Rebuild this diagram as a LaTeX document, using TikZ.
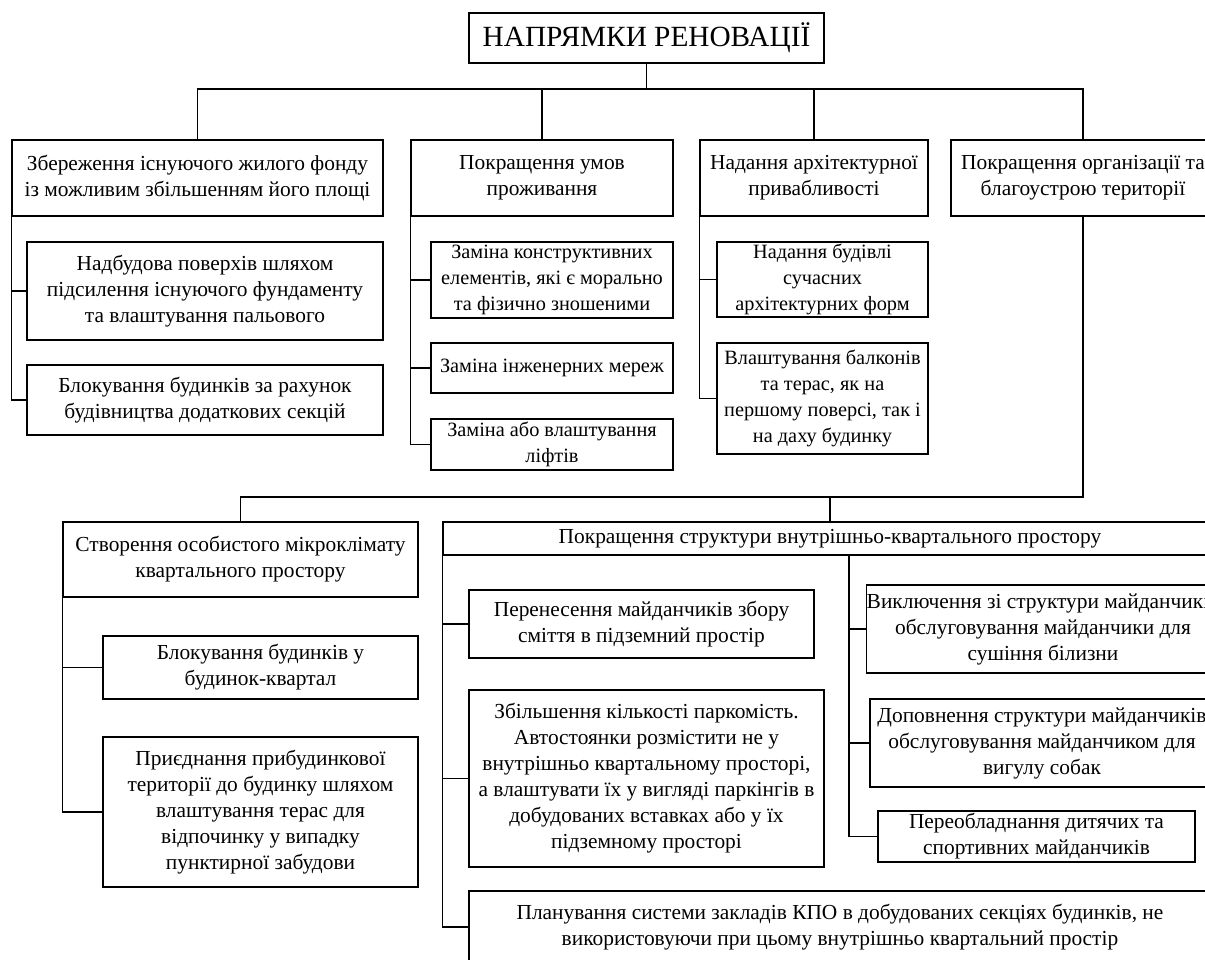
\documentclass[tikz,border=0pt]{standalone}
\usepackage{fontspec}
\setmainfont{Liberation Serif}

\begin{document}
\begin{tikzpicture}[x=1pt, y=-1pt,
  box/.style={draw, line width=1.1pt, align=center, inner sep=0pt,
    font=\fontsize{21.4}{26}\selectfont},
  smallbox/.style={box, font=\fontsize{20.3}{26}\selectfont},
  link/.style={line width=1.1pt, line cap=rect}]
\useasboundingbox (0,0) rectangle (1205,960);
\clip (0,0) rectangle (1205,960);

% top level
\node[box, minimum width=355pt, minimum height=50pt, font=\fontsize{29.3}{34}\selectfont]
  (title) at (646.5,38) {НАПРЯМКИ РЕНОВАЦІЇ};

\node[box, minimum width=371pt, minimum height=76pt] (b1) at (197.5,178)
  {Збереження існуючого жилого фонду\\із можливим збільшенням його площі};
\node[box, minimum width=262pt, minimum height=76pt] (b2) at (542,178)
  {Покращення умов\\проживання};
\node[box, minimum width=228pt, minimum height=76pt] (b3) at (814,178)
  {Надання архітектурної\\привабливості};
\node[box, minimum width=264pt, minimum height=76pt] (b4) at (1083,178)
  {Покращення організації та\\благоустрою території};

% children of the first row
\node[box, minimum width=356pt, minimum height=98pt] (b1a) at (205,291)
  {Надбудова поверхів шляхом\\підсилення існуючого фундаменту\\та влаштування пальового};
\node[box, minimum width=356pt, minimum height=70pt] (b1b) at (205,400)
  {Блокування будинків за рахунок\\будівництва додаткових секцій};

\node[smallbox, minimum width=242pt, minimum height=76pt] (b2a) at (552,280)
  {Заміна конструктивних\\елементів, які є морально\\та фізично зношеними};
\node[smallbox, minimum width=242pt, minimum height=50pt] (b2b) at (552,368)
  {Заміна інженерних мереж};
\node[smallbox, minimum width=242pt, minimum height=51pt] (b2c) at (552,444.5)
  {Заміна або влаштування\\ліфтів};

\node[smallbox, minimum width=211pt, minimum height=75pt] (b3a) at (822.5,279.5)
  {Надання будівлі\\сучасних\\архітектурних форм};
\node[smallbox, minimum width=211pt, minimum height=111pt] (b3b) at (822.5,398.5)
  {Влаштування балконів\\та терас, як на\\першому поверсі, так і\\на даху будинку};

% second row
\node[box, minimum width=355pt, minimum height=75pt] (m) at (240.5,559.5)
  {Створення особистого мікроклімату\\квартального простору};
\node[box, minimum width=315pt, minimum height=63pt] (m1) at (260.5,667.5)
  {Блокування будинків у\\будинок-квартал};
\node[box, minimum width=315pt, minimum height=150pt] (m2) at (260.5,812)
  {Приєднання прибудинкової\\території до будинку шляхом\\влаштування терас для\\відпочинку у випадку\\пунктирної забудови};

\node[box, minimum width=774pt, minimum height=33pt] (s) at (830,538.5)
  {Покращення структури внутрішньо-квартального простору};
\node[box, minimum width=345pt, minimum height=68pt] (s1) at (641.5,624)
  {Перенесення майданчиків збору\\сміття в підземний простір};
\node[box, minimum width=355pt, minimum height=177pt] (s2) at (646.5,778.5)
  {Збільшення кількості паркомість.\\Автостоянки розмістити не у\\внутрішньо квартальному просторі,\\а влаштувати їх у вигляді паркінгів в\\добудованих вставках або у їх\\підземному просторі};
\node[box, minimum width=742pt, minimum height=72pt] (s3) at (840,927)
  {Планування системи закладів КПО в добудованих секціях будинків, не\\використовуючи при цьому внутрішньо квартальний простір};
\node[box, minimum width=344pt, minimum height=88pt] (s4) at (1043,629)
  {Виключення зі структури майданчиків\\обслуговування майданчики для\\сушіння білизни};
\node[box, minimum width=344pt, minimum height=88pt] (s5) at (1042,743)
  {Доповнення структури майданчиків\\обслуговування майданчиком для\\вигулу собак};
\node[box, minimum width=317pt, minimum height=51pt] (s6) at (1036.5,836.5)
  {Переобладнання дитячих та\\спортивних майданчиків};

% connectors
\coordinate (bus) at (0,89);
\coordinate (bus2) at (0,497);
\coordinate (sr) at (849,555);

\draw[link] (title.south) -- (title.south |- bus);
\draw[link] (b1.north |- bus) -- (b4.north |- bus);
\foreach \n in {b1,b2,b3,b4}
  \draw[link] (\n.north) -- (\n.north |- bus);

\draw[link] (b1.south west) |- (b1b.west);
\draw[link] (b1.south west |- b1a.west) -- (b1a.west);

\draw[link] (b2.south west) |- (b2c.west);
\foreach \n in {b2a,b2b}
  \draw[link] (b2.south west |- \n.west) -- (\n.west);

\draw[link] (b3.south west) |- (b3b.west);
\draw[link] (b3.south west |- b3a.west) -- (b3a.west);

\draw[link] (b4.south) -- (b4.south |- bus2) -- (m.north |- bus2) -- (m.north);
\draw[link] (s.north) -- (s.north |- bus2);

\draw[link] (m.south west) |- (m2.west);
\draw[link] (m.south west |- m1.west) -- (m1.west);

\draw[link] (s.south west) |- (s3.west);
\foreach \n in {s1,s2}
  \draw[link] (s.south west |- \n.west) -- (\n.west);

\draw[link] (sr) |- (s6.west);
\foreach \n in {s4,s5}
  \draw[link] (sr |- \n.west) -- (\n.west);

\end{tikzpicture}
\end{document}
